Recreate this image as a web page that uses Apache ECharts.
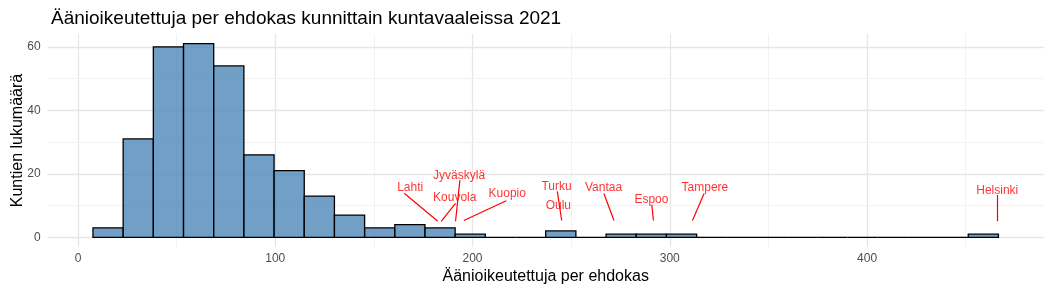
<!DOCTYPE html>
<html>
<head>
<meta charset="utf-8">
<script src="https://cdn.jsdelivr.net/npm/echarts@6/dist/echarts.min.js"></script>
<style>
html,body{margin:0;padding:0;background:#fff;}
#chart{width:1052px;height:292px;}
</style>
</head>
<body>
<div id="chart"></div>
<script>
// Histogram: 30 bins
var binStart = 7.6;
var binWidth = 15.3;
var counts = [3, 31, 60, 61, 54, 26, 21, 13, 7, 3, 4, 3, 1, 0, 0, 2, 0, 1, 1, 1, 0, 0, 0, 0, 0, 0, 0, 0, 0, 1];

// City labels (text position) and their segments
var cityNames = ['Lahti', 'Jyväskylä', 'Kouvola', 'Kuopio', 'Turku', 'Oulu', 'Vantaa', 'Espoo', 'Tampere', 'Helsinki'];
var labelX = [168.4, 193.2, 191.0, 217.6, 242.6, 243.5, 266.4, 290.7, 317.8, 466.0];
var labelY = [15.6, 19.3, 12.4, 13.6, 16.1, 10.1, 15.6, 11.9, 15.6, 14.8];
// segment start (near label) and end (at point)
var segStartX = [165.4, 193.6, 191.4, 217.1, 243.0, null, 266.6, 290.9, 317.4, 466.0];
var segStartY = [13.9, 18.0, 10.7, 11.5, 14.5, null, 13.8, 10.3, 13.8, 13.3];
var segEndX = [182.4, 191.4, 184.1, 195.6, 245.2, null, 271.7, 291.7, 311.5, 466.0];
var segEndY = [5.05, 5.05, 5.05, 5.3, 5.3, null, 5.3, 5.3, 5.3, 5.05];

var xTicks = [0, 100, 200, 300, 400];
var xMinor = [50, 150, 250, 350, 450];
var yTicks = [0, 20, 40, 60];
var yMinor = [10, 30, 50];

var titleText = 'Äänioikeutettuja per ehdokas kunnittain kuntavaaleissa 2021';
var xTitle = 'Äänioikeutettuja per ehdokas';
var yTitle = 'Kuntien lukumäärä';

var binData = counts.map(function (c, i) {
  return [binStart + i * binWidth, binStart + (i + 1) * binWidth, c];
});
var labelData = cityNames.map(function (n, i) {
  return { name: n, value: [labelX[i], labelY[i]] };
});
var segData = [];
for (var i = 0; i < cityNames.length; i++) {
  if (segStartX[i] != null) {
    segData.push({ coords: [[segStartX[i], segStartY[i]], [segEndX[i], segEndY[i]]] });
  }
}

var gridMarks = [];
xTicks.forEach(function (v) { gridMarks.push({ xAxis: v, lineStyle: { color: '#E6E6E6', width: 1.3, type: 'solid' } }); });
xMinor.forEach(function (v) { gridMarks.push({ xAxis: v, lineStyle: { color: '#F2F2F2', width: 1, type: 'solid' } }); });
yTicks.forEach(function (v) { gridMarks.push({ yAxis: v, lineStyle: { color: '#E6E6E6', width: 1.3, type: 'solid' } }); });
yMinor.forEach(function (v) { gridMarks.push({ yAxis: v, lineStyle: { color: '#F2F2F2', width: 1, type: 'solid' } }); });

var xMin = binStart - 0.05 * (counts.length * binWidth);
var xMax = binStart + counts.length * binWidth + 0.05 * (counts.length * binWidth);
var yMax0 = Math.max.apply(null, counts);
var yMin = -0.05 * yMax0;
var yMax = yMax0 * 1.05;

var chart = echarts.init(document.getElementById('chart'), null, { renderer: 'canvas' });
chart.setOption({
  animation: false,
  backgroundColor: '#ffffff',
  textStyle: { fontFamily: 'Liberation Sans, Arial, sans-serif' },
  title: {
    text: titleText,
    left: 46,
    top: 4,
    textStyle: { fontSize: 19, fontWeight: 'normal', color: '#000', fontFamily: 'Liberation Sans' }
  },
  grid: { left: 47.7, right: 8.3, top: 34, bottom: 45, outerBoundsMode: 'none', containLabel: false },
  xAxis: {
    type: 'value',
    min: xMin,
    max: xMax,
    axisLine: { show: false },
    axisTick: { show: false },
    splitLine: { show: false },
    axisLabel: { customValues: xTicks, color: '#4D4D4D', fontSize: 12, margin: 6, fontFamily: 'Liberation Sans' },
    name: xTitle,
    nameLocation: 'middle',
    nameGap: 22,
    nameMoveOverlap: false,
    nameTextStyle: { fontSize: 16, color: '#000', fontFamily: 'Liberation Sans' }
  },
  yAxis: {
    type: 'value',
    min: yMin,
    max: yMax,
    axisLine: { show: false },
    axisTick: { show: false },
    splitLine: { show: false },
    axisLabel: { customValues: yTicks, color: '#4D4D4D', fontSize: 12, margin: 7, fontFamily: 'Liberation Sans' },
    name: yTitle,
    nameLocation: 'middle',
    nameGap: 22,
    nameRotate: 90,
    nameMoveOverlap: false,
    nameTextStyle: { fontSize: 16, color: '#000', fontFamily: 'Liberation Sans' }
  },
  series: [
    {
      type: 'scatter',
      data: [],
      z: 0,
      silent: true,
      markLine: {
        silent: true,
        z: 0,
        zlevel: 0,
        symbol: ['none', 'none'],
        label: { show: false },
        animation: false,
        data: gridMarks
      }
    },
    {
      type: 'custom',
      z: 2,
      data: binData,
      renderItem: function (params, api) {
        var p0 = api.coord([api.value(0), api.value(2)]);
        var p1 = api.coord([api.value(1), 0]);
        return {
          type: 'rect',
          shape: { x: p0[0], y: p0[1], width: p1[0] - p0[0], height: p1[1] - p0[1] },
          style: { fill: 'rgba(70,130,180,0.77)', stroke: '#000', lineWidth: 1.3 }
        };
      }
    },
    {
      type: 'lines',
      coordinateSystem: 'cartesian2d',
      z: 3,
      silent: true,
      lineStyle: { color: '#FF0000', width: 1.2, opacity: 1 },
      data: segData
    },
    {
      type: 'scatter',
      z: 4,
      silent: true,
      symbolSize: 0,
      data: labelData,
      label: {
        show: true,
        position: 'inside',
        formatter: '{b}',
        color: '#FF0000',
        fontSize: 12,
        fontFamily: 'Liberation Sans'
      }
    }
  ]
});
</script>
</body>
</html>
